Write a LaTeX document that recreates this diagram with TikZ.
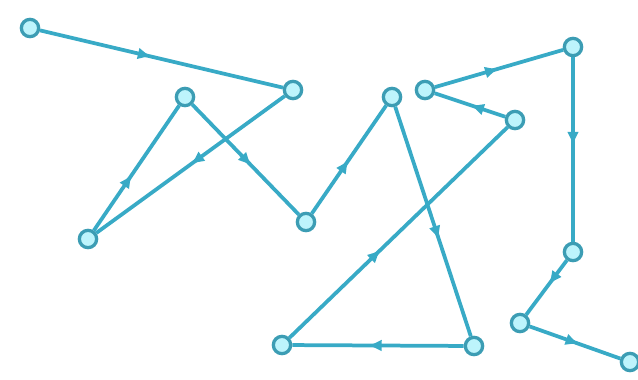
\documentclass[tikz,border=0pt]{standalone}
\usepackage{tikz}
\usetikzlibrary{arrows.meta,positioning,decorations.markings}
\usepackage{xcolor}
\definecolor{edge}{HTML}{38AAC6}
\definecolor{ring}{HTML}{3C9DB4}
\definecolor{dotfill}{HTML}{BDF4FC}

\begin{document}
\begin{tikzpicture}[
  x=0.03cm,y=-0.03cm,
  dot/.style={circle,draw=ring,fill=dotfill,line width=2.8pt,minimum size=0.52cm,inner sep=0pt},
  link/.style={draw=edge,line width=3.2pt,postaction={decorate},
    decoration={markings,mark=at position #1 with {\arrow{Latex[length=0.42cm,width=0.36cm]}}}},
  link/.default=0.5,
]
  \useasboundingbox (0,0) rectangle (638,379);

  \node[dot] (p1) at (30,28) {};
  \node[dot] (p2) at (293,90) {};
  \node[dot] (p3) at (185,97) {};
  \node[dot] (p4) at (88,239) {};
  \node[dot] (p5) at (306,222) {};
  \node[dot] (p6) at (392,97) {};
  \node[dot] (p7) at (425,90) {};
  \node[dot] (p8) at (515,120) {};
  \node[dot] (p9) at (573,47) {};
  \node[dot] (p10) at (573,252) {};
  \node[dot] (p11) at (520,323) {};
  \node[dot] (p12) at (630,362) {};
  \node[dot] (p13) at (474,346) {};
  \node[dot] (p14) at (282,345) {};

  \draw[link=0.46] (p1) -- (p2);
  \draw[link] (p2) -- (p4);
  \draw[link=0.45] (p4) -- (p3);
  \draw[link=0.56] (p3) -- (p5);
  \draw[link] (p5) -- (p6);
  \draw[link=0.58] (p6) -- (p13);
  \draw[link=0.56] (p13) -- (p14);
  \draw[link=0.42] (p14) -- (p8);
  \draw[link] (p8) -- (p7);
  \draw[link] (p7) -- (p9);
  \draw[link=0.48] (p9) -- (p10);
  \draw[link=0.45] (p10) -- (p11);
  \draw[link=0.55] (p11) -- (p12);
\end{tikzpicture}
\end{document}
